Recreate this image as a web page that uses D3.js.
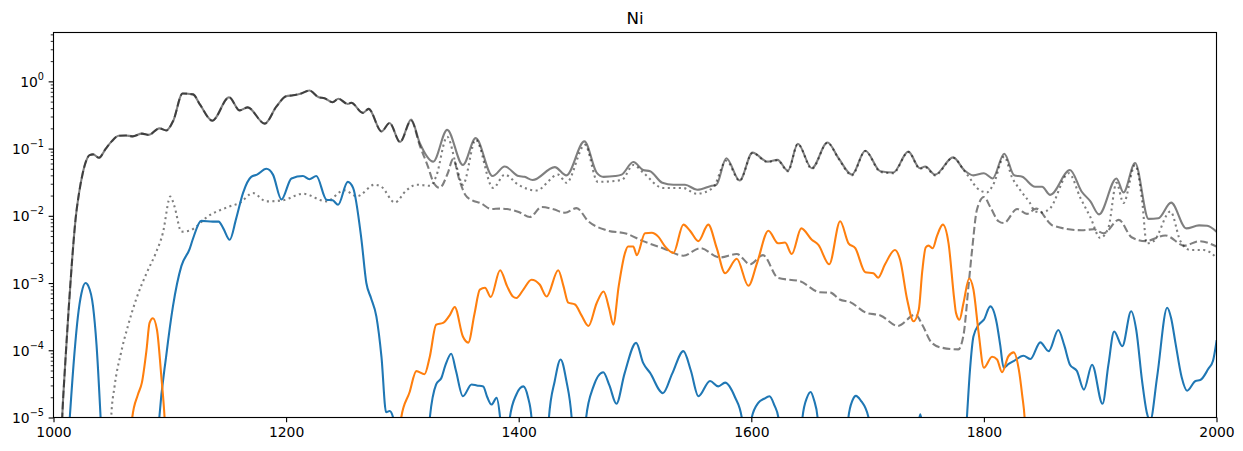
<!DOCTYPE html>
<html>
<head>
<meta charset="utf-8">
<script src="https://cdnjs.cloudflare.com/ajax/libs/d3/7.8.5/d3.min.js"></script>
<style>
body { margin: 0; background: #fff; }
svg text { font-family: "DejaVu Sans", sans-serif; fill: #000; }
</style>
</head>
<body>
<script>
var width = 1243,
    height = 451,
    margin = {left: 53.5, right: 26.5, top: 32.5, bottom: 33.5};

var titleText = "Ni";
var xTicks = [1000, 1200, 1400, 1600, 1800, 2000];
var yTicks = [1e-5, 1e-4, 1e-3, 1e-2, 1e-1, 1];
var yTickLabels = ["\u22125", "\u22124", "\u22123", "\u22122", "\u22121", "0"];

// solid grey: total
var totalLine = [
  [1006, 2e-6], [1007.5, 1e-5], [1010, 6e-5], [1013, 4e-4], [1016, 2.2e-3], [1019, 9e-3],
  [1022, 0.022], [1025, 0.042], [1028, 0.065], [1031, 0.08], [1034, 0.082], [1039, 0.073],
  [1045, 0.1], [1050, 0.128], [1056, 0.155], [1062, 0.157], [1068, 0.152], [1076, 0.167],
  [1082, 0.16], [1091, 0.2], [1097, 0.186], [1103, 0.26], [1111, 0.66], [1120, 0.64],
  [1126, 0.45], [1136.5, 0.26], [1151, 0.58], [1160, 0.37], [1167, 0.41], [1181.6, 0.235],
  [1191.6, 0.42], [1200, 0.6], [1206, 0.62], [1213, 0.66], [1220, 0.73], [1228, 0.58],
  [1233, 0.56], [1240, 0.49], [1245, 0.55], [1253, 0.46], [1256, 0.48], [1266, 0.34],
  [1271, 0.39], [1282, 0.18], [1289, 0.24], [1298, 0.125], [1307.5, 0.27], [1315, 0.12],
  [1326.5, 0.064], [1338.5, 0.19], [1352, 0.057], [1363, 0.143], [1377.5, 0.039], [1388, 0.054],
  [1400, 0.039], [1405, 0.038], [1412, 0.034], [1431, 0.053], [1441, 0.04], [1456.5, 0.128],
  [1467, 0.044], [1473, 0.038], [1483, 0.039], [1488.5, 0.041], [1498.6, 0.063], [1507, 0.048],
  [1513, 0.046], [1523.5, 0.031], [1533, 0.029], [1543, 0.029], [1553.5, 0.0244], [1566, 0.028],
  [1570, 0.029], [1578.5, 0.072], [1590, 0.0336], [1601, 0.087], [1614, 0.064], [1622.5, 0.068],
  [1631.5, 0.047], [1640, 0.118], [1652, 0.051], [1665.5, 0.123], [1675, 0.072], [1686.5, 0.041],
  [1698, 0.093], [1711, 0.046], [1722, 0.044], [1735, 0.09], [1745, 0.051], [1749.6, 0.054],
  [1758, 0.041], [1773.5, 0.074], [1783, 0.048], [1791, 0.04], [1800, 0.043], [1807.5, 0.036],
  [1817.5, 0.084], [1826, 0.04], [1833, 0.038], [1844, 0.027], [1850, 0.027], [1857, 0.0205],
  [1874, 0.048], [1884, 0.023], [1891.6, 0.0164], [1899, 0.0105], [1914, 0.036], [1920, 0.0223],
  [1930, 0.061], [1941.6, 0.009], [1950, 0.0092], [1961, 0.0157], [1974, 0.0065], [1985, 0.0072],
  [1992, 0.0071], [2000, 0.0058]
];

// dashed grey
var dashedLine = [
  [1006, 2e-6], [1007.5, 1e-5], [1010, 6e-5], [1013, 4e-4], [1016, 2.2e-3], [1019, 9e-3],
  [1022, 0.022], [1025, 0.042], [1028, 0.065], [1031, 0.08], [1034, 0.082], [1039, 0.073],
  [1045, 0.1], [1050, 0.128], [1056, 0.155], [1062, 0.157], [1068, 0.152], [1076, 0.167],
  [1082, 0.16], [1091, 0.2], [1097, 0.186], [1103, 0.26], [1111, 0.66], [1120, 0.64],
  [1126, 0.45], [1136.5, 0.26], [1151, 0.58], [1160, 0.37], [1167, 0.41], [1181.6, 0.235],
  [1191.6, 0.42], [1200, 0.6], [1206, 0.62], [1213, 0.66], [1220, 0.73], [1228, 0.58],
  [1233, 0.56], [1240, 0.49], [1245, 0.55], [1253, 0.46], [1256, 0.48], [1266, 0.34],
  [1271, 0.39], [1282, 0.18], [1289, 0.24], [1298, 0.125], [1307.5, 0.26], [1315, 0.11],
  [1322, 0.054], [1326.5, 0.032], [1332, 0.026], [1339, 0.043], [1343.6, 0.07], [1349, 0.034],
  [1354, 0.0206], [1360, 0.017], [1367, 0.0155], [1376.6, 0.0126], [1384, 0.0128], [1390, 0.0126],
  [1400, 0.0114], [1409.6, 0.0096], [1419.7, 0.0135], [1430, 0.0125], [1439.8, 0.0111], [1449.8, 0.013],
  [1459.8, 0.0083], [1475.6, 0.0061], [1493, 0.0054], [1507, 0.0042], [1524, 0.0033], [1541.6, 0.00255],
  [1556, 0.0033], [1573, 0.0024], [1587.5, 0.0027], [1599, 0.0019], [1610, 0.0026], [1623, 0.00119],
  [1642, 0.00106], [1659, 7.3e-4], [1668, 7.2e-4], [1676, 5.7e-4], [1685, 5.2e-4], [1699, 3.6e-4],
  [1711, 3.3e-4], [1726, 2.3e-4], [1741, 3.4e-4], [1747, 2.4e-4], [1755, 1.3e-4], [1764, 1.09e-4],
  [1778, 1.03e-4], [1782.5, 1.7e-4], [1787, 1e-3], [1790, 3.3e-3], [1794, 0.0123], [1800, 0.019],
  [1805.5, 0.0135], [1812.6, 0.0083], [1817, 0.0078], [1828.6, 0.0126], [1837, 0.0107], [1845, 0.0128],
  [1859, 0.0072], [1884, 0.0061], [1894.5, 0.0063], [1903, 0.0055], [1916, 0.0087], [1927, 0.0048],
  [1939, 0.0042], [1956, 0.0051], [1972.5, 0.0036], [1985, 0.0042], [2000, 0.0035]
];

// dotted grey
var dottedLine = [
  [1048, 2e-6], [1049.6, 1e-5], [1052.5, 2.9e-5], [1058, 9.1e-5], [1064, 2.3e-4], [1071, 5.7e-4],
  [1080, 1.4e-3], [1088, 2.8e-3], [1094, 5.5e-3], [1100.5, 0.0194], [1104, 0.0138], [1110, 5.8e-3],
  [1117, 6.0e-3], [1123, 7.0e-3], [1131, 9.3e-3], [1151.5, 0.0138], [1160, 0.0155], [1171.5, 0.0218],
  [1183, 0.0164], [1197, 0.017], [1214.5, 0.0213], [1234.7, 0.0164], [1250, 0.024], [1261, 0.0195],
  [1276, 0.029], [1282, 0.027], [1293.5, 0.0158], [1303.5, 0.024], [1312, 0.029], [1324, 0.028],
  [1329, 0.0386], [1338.5, 0.15], [1346.5, 0.054], [1352, 0.029], [1363, 0.135], [1378, 0.026],
  [1388, 0.041], [1399.6, 0.029], [1415, 0.0238], [1434, 0.041], [1441, 0.031], [1457, 0.114],
  [1468, 0.032], [1488.5, 0.034], [1498.6, 0.057], [1507, 0.044], [1524, 0.026], [1541, 0.026],
  [1553, 0.0213], [1567, 0.026], [1578.5, 0.066], [1590, 0.0332], [1601, 0.086], [1614, 0.063],
  [1622.5, 0.067], [1631.5, 0.046], [1640, 0.117], [1652, 0.05], [1665.5, 0.122], [1675, 0.071],
  [1686.5, 0.04], [1698, 0.092], [1711, 0.045], [1722, 0.043], [1735, 0.089], [1745, 0.05],
  [1749.6, 0.053], [1758, 0.04], [1773.5, 0.073], [1783, 0.047], [1788, 0.036], [1794, 0.026],
  [1802.6, 0.0223], [1808, 0.029], [1817.5, 0.076], [1824, 0.038], [1831, 0.0244], [1839.6, 0.0155],
  [1844, 0.0116], [1850, 0.0112], [1857, 0.013], [1873, 0.043], [1883, 0.0184], [1891.6, 0.0095],
  [1900, 0.0047], [1907, 0.0066], [1914, 0.031], [1920, 0.0155], [1930, 0.057], [1936, 0.017],
  [1940, 0.0039], [1946, 0.0042], [1960.4, 0.0116], [1969, 0.0042], [1977.6, 0.0031], [1989, 0.0031],
  [2000, 0.0024]
];

// blue (C0), dips below 1e-5 are clipped
var blueLine = [
  [1012, 3e-6], [1014, 1e-5], [1018, 9e-5], [1021, 3.2e-4], [1024, 7e-4], [1027.5, 1e-3],
  [1030, 9e-4], [1034, 4.5e-4], [1037, 1.2e-4], [1040.5, 1e-5], [1042, 3e-6],
  [1089, 3e-6], [1091, 1e-5], [1097, 8.5e-5], [1102.7, 4.5e-4], [1110, 1.8e-3], [1117, 3.2e-3],
  [1120, 4.6e-3], [1127, 8.4e-3], [1137, 8.2e-3], [1142, 8.2e-3], [1146, 6.5e-3], [1151.5, 4.4e-3],
  [1157, 9e-3], [1163, 0.022], [1170, 0.038], [1175, 0.041], [1183, 0.05], [1188.7, 0.041],
  [1196, 0.0175], [1204.6, 0.036], [1214.5, 0.039], [1220, 0.035], [1226, 0.039], [1234.7, 0.0174],
  [1240, 0.017], [1244.7, 0.0146], [1253, 0.032], [1257.6, 0.026], [1264.8, 4.4e-3], [1269, 1e-3],
  [1273, 6e-4], [1277.6, 3.2e-4], [1282, 8e-5], [1286, 1.2e-5], [1289, 1.25e-5], [1292, 1e-5],
  [1294, 3e-6],
  [1321, 3e-6], [1323.6, 1e-5], [1329, 3.1e-5], [1333.6, 3.9e-5], [1337, 6e-5], [1342, 8.9e-5],
  [1346, 5e-5], [1352, 2.07e-5], [1359.5, 3.1e-5], [1364, 3e-5], [1369.5, 2.9e-5], [1373, 2e-5],
  [1376.6, 1.56e-5], [1381, 1.96e-5], [1384, 1e-5], [1386.5, 3e-6],
  [1390, 3e-6], [1392.4, 1e-5], [1398, 2.2e-5], [1404, 2.9e-5], [1408, 2e-5], [1411, 1e-5], [1413, 3e-6],
  [1424, 3e-6], [1426, 1e-5], [1431, 3.5e-5], [1436, 7.3e-5], [1441, 3.5e-5], [1445.5, 1e-5], [1447.5, 3e-6],
  [1456, 3e-6], [1458, 1e-5], [1464, 2.8e-5], [1472.7, 4.7e-5], [1478, 3e-5], [1484, 1.6e-5],
  [1491, 4.5e-5], [1501, 1.29e-4], [1507, 6.5e-5], [1513, 4.6e-5], [1524, 2.3e-5], [1532, 4.5e-5],
  [1541.6, 9.7e-5], [1548, 5e-5], [1554.5, 2.07e-5], [1564.5, 3.5e-5], [1571.6, 2.9e-5], [1577.5, 3.3e-5],
  [1586, 2e-5], [1591.8, 1e-5], [1593.5, 3e-6],
  [1598, 3e-6], [1600.4, 1e-5], [1606, 1.65e-5], [1611, 1.9e-5], [1615.6, 2.07e-5], [1620, 1.5e-5],
  [1623.3, 1e-5], [1625, 3e-6],
  [1642, 3e-6], [1644, 1e-5], [1648, 2e-5], [1651, 2.4e-5], [1654, 1.8e-5], [1657, 1e-5], [1659, 3e-6],
  [1681.5, 3e-6], [1683.5, 1e-5], [1687, 1.8e-5], [1690, 2.1e-5], [1694, 1.8e-5], [1700.8, 1e-5], [1702.5, 3e-6],
  [1741.5, 5e-6], [1745.3, 1.12e-5], [1749, 5e-6],
  [1783.5, 3e-6], [1785.4, 1e-5], [1788, 5e-5], [1791, 1.6e-4], [1795.5, 2.4e-4], [1800, 2.85e-4],
  [1805.5, 4.5e-4], [1811, 2.55e-4], [1814, 1.2e-4], [1817, 5.5e-5], [1821, 6.2e-5], [1825.6, 6.9e-5],
  [1834, 8.3e-5], [1840, 7.4e-5], [1848.5, 1.31e-4], [1855.7, 9.7e-5], [1864, 2.0e-4], [1869, 1.2e-4],
  [1874, 6.1e-5], [1880, 4.9e-5], [1886, 2.6e-5], [1893, 6.1e-5], [1902, 1.6e-5], [1907, 6e-5],
  [1912, 1.9e-4], [1919, 1.15e-4], [1926.6, 3.8e-4], [1931, 2e-4], [1936, 3.5e-5], [1940, 1.2e-5],
  [1943, 9e-6], [1949, 4.1e-5], [1957.6, 4.3e-4], [1961, 3e-4], [1964.7, 1.29e-4], [1970, 4e-5],
  [1974.7, 2.5e-5], [1982, 3.5e-5], [1986, 3.6e-5], [1993, 5.3e-5], [1997, 7e-5], [2000, 1.36e-4]
];

// orange (C1)
var orangeLine = [
  [1066, 3e-6], [1067.7, 1e-5], [1072.6, 2.2e-5], [1076, 3.3e-5], [1080, 1.02e-4], [1082.6, 2.55e-4],
  [1085.5, 3e-4], [1089, 2e-4], [1092.7, 4.1e-5], [1095.5, 1e-5], [1097, 3e-6],
  [1297, 3e-6], [1299, 1e-5], [1306, 2.33e-5], [1312, 4.9e-5], [1319, 4.4e-5], [1323.6, 8.1e-5],
  [1329, 2.4e-4], [1335, 2.55e-4], [1341, 3.4e-4], [1345, 4.4e-4], [1352, 1.6e-4], [1356.6, 1.3e-4],
  [1362, 3.5e-4], [1366.6, 8e-4], [1371, 8.5e-4], [1376, 6.2e-4], [1384, 1.55e-3], [1390, 9e-4],
  [1395, 6.3e-4], [1398, 6.0e-4], [1404, 8e-4], [1411, 1.12e-3], [1418, 9.5e-4], [1424, 6.3e-4],
  [1434, 1.55e-3], [1438.5, 9e-4], [1442.6, 5.1e-4], [1448.4, 4.8e-4], [1454, 3.3e-4], [1460, 2.3e-4],
  [1467, 5e-4], [1473, 7.5e-4], [1478, 4e-4], [1481.3, 2.4e-4], [1486, 9e-4], [1491.4, 2.8e-3],
  [1494, 3.5e-3], [1498.5, 3.5e-3], [1501.5, 2.6e-3], [1508.6, 5.5e-3], [1514.4, 5.6e-3], [1520, 4.9e-3],
  [1525.8, 3.5e-3], [1533, 2.8e-3], [1541.6, 7.4e-3], [1547.3, 6.0e-3], [1554.5, 4.2e-3], [1563, 7.4e-3],
  [1570.3, 3.3e-3], [1577.5, 1.4e-3], [1587.5, 2.3e-3], [1597.5, 9.1e-4], [1605, 2.0e-3], [1614.7, 6.0e-3],
  [1623, 3.9e-3], [1629, 4.0e-3], [1634.8, 2.7e-3], [1643, 6.5e-3], [1652, 4.4e-3], [1657.7, 3.7e-3],
  [1667, 1.9e-3], [1676.4, 8.3e-3], [1683.6, 3.9e-3], [1689.4, 3.3e-3], [1698, 1.45e-3], [1705, 1.4e-3],
  [1709, 1.2e-3], [1715, 1.9e-3], [1723.5, 3.1e-3], [1728, 2.2e-3], [1734, 5.7e-4], [1739.5, 2.7e-4],
  [1744, 4.0e-4], [1747, 1.5e-3], [1750, 3.4e-3], [1752.5, 3.6e-3], [1756, 3.3e-3], [1759.6, 5e-3],
  [1764.7, 7.4e-3], [1769.6, 3.9e-3], [1774.5, 5.7e-4], [1776, 3.6e-4], [1779, 2.85e-4], [1782.5, 5.1e-4],
  [1787.3, 1.17e-3], [1791, 8.0e-4], [1795.5, 1.8e-4], [1800, 5.5e-5], [1807, 8e-5], [1811.3, 7.3e-5],
  [1815.6, 4.7e-5], [1821, 8.1e-5], [1825.6, 9.3e-5], [1830, 5.2e-5], [1833, 2.1e-5], [1835, 1e-5],
  [1836.5, 3e-6]
];

var x = d3.scaleLinear()
    .domain([1000, 2000])
    .range([margin.left, width - margin.right]);

var y = d3.scaleLog()
    .domain([1e-5, 5.33])
    .range([height - margin.bottom, margin.top]);

var svg = d3.select("body").append("svg")
    .attr("width", width)
    .attr("height", height);

svg.append("defs").append("clipPath")
    .attr("id", "plot-clip")
  .append("rect")
    .attr("x", margin.left)
    .attr("y", margin.top)
    .attr("width", width - margin.left - margin.right)
    .attr("height", height - margin.top - margin.bottom);

var line = d3.line()
    .x(function(d) { return x(d[0]); })
    .y(function(d) { return y(d[1]); })
    .curve(d3.curveMonotoneX);

var plot = svg.append("g").attr("clip-path", "url(#plot-clip)");

// linewidth 1.5pt at 100 dpi -> 2.08px, dash patterns scaled the same way
var series = [
  {data: totalLine, color: "#000", opacity: 0.5, dash: null, cap: "square"},
  {data: dashedLine, color: "#000", opacity: 0.5, dash: "7.7,3.33", cap: "butt"},
  {data: dottedLine, color: "#000", opacity: 0.5, dash: "2.08,3.44", cap: "butt"},
  {data: blueLine, color: "#1f77b4", opacity: 1, dash: null, cap: "square"},
  {data: orangeLine, color: "#ff7f0e", opacity: 1, dash: null, cap: "square"}
];

plot.selectAll("path.series")
    .data(series)
    .enter().append("path")
    .attr("class", "series")
    .attr("d", function(s) { return line(s.data); })
    .attr("fill", "none")
    .attr("stroke", function(s) { return s.color; })
    .attr("stroke-opacity", function(s) { return s.opacity; })
    .attr("stroke-width", 2.08)
    .attr("stroke-linejoin", "round")
    .attr("stroke-linecap", function(s) { return s.cap; })
    .attr("stroke-dasharray", function(s) { return s.dash; });

// x axis
var xAxis = svg.append("g")
    .attr("transform", "translate(0," + (height - margin.bottom) + ")")
    .call(d3.axisBottom(x).tickValues(xTicks).tickSize(4.86).tickSizeOuter(0).tickPadding(4.5)
      .tickFormat(d3.format("d")));
xAxis.select(".domain").remove();
xAxis.selectAll(".tick line").attr("stroke-width", 1.11);
xAxis.selectAll(".tick text")
    .attr("font-size", "13.9px")
    .attr("font-family", "DejaVu Sans, sans-serif");

// y axis, minor ticks first
var minorTicks = [];
for (var e = -5; e <= 0; e++) {
  for (var k = 2; k <= 9; k++) {
    var v = k * Math.pow(10, e);
    if (v <= y.domain()[1]) minorTicks.push(v);
  }
}

var yMinor = svg.append("g")
    .attr("transform", "translate(" + margin.left + ",0)")
    .call(d3.axisLeft(y).tickValues(minorTicks).tickSize(2.78).tickSizeOuter(0).tickFormat(""));
yMinor.select(".domain").remove();
yMinor.selectAll(".tick line").attr("stroke-width", 0.83);

var yAxis = svg.append("g")
    .attr("transform", "translate(" + margin.left + ",0)")
    .call(d3.axisLeft(y).tickValues(yTicks).tickSize(4.86).tickSizeOuter(0).tickFormat(""));
yAxis.select(".domain").remove();
yAxis.selectAll(".tick line").attr("stroke-width", 1.11);

var yLabel = yAxis.selectAll(".tick")
  .append("text")
    .attr("x", -9.5)
    .attr("y", 5)
    .attr("text-anchor", "end")
    .attr("font-size", "13.9px")
    .attr("font-family", "DejaVu Sans, sans-serif")
    .attr("fill", "#000");
yLabel.append("tspan").text("10");
yLabel.append("tspan")
    .attr("dy", -7)
    .attr("font-size", "9.7px")
    .text(function(d, i) { return yTickLabels[i]; });

// frame
svg.append("rect")
    .attr("x", margin.left)
    .attr("y", margin.top)
    .attr("width", width - margin.left - margin.right)
    .attr("height", height - margin.top - margin.bottom)
    .attr("fill", "none")
    .attr("stroke", "#000")
    .attr("stroke-width", 1.11);

svg.append("text")
    .attr("x", (margin.left + width - margin.right) / 2)
    .attr("y", margin.top - 8.5)
    .attr("text-anchor", "middle")
    .attr("font-size", "16.7px")
    .text(titleText);
</script>
</body>
</html>
